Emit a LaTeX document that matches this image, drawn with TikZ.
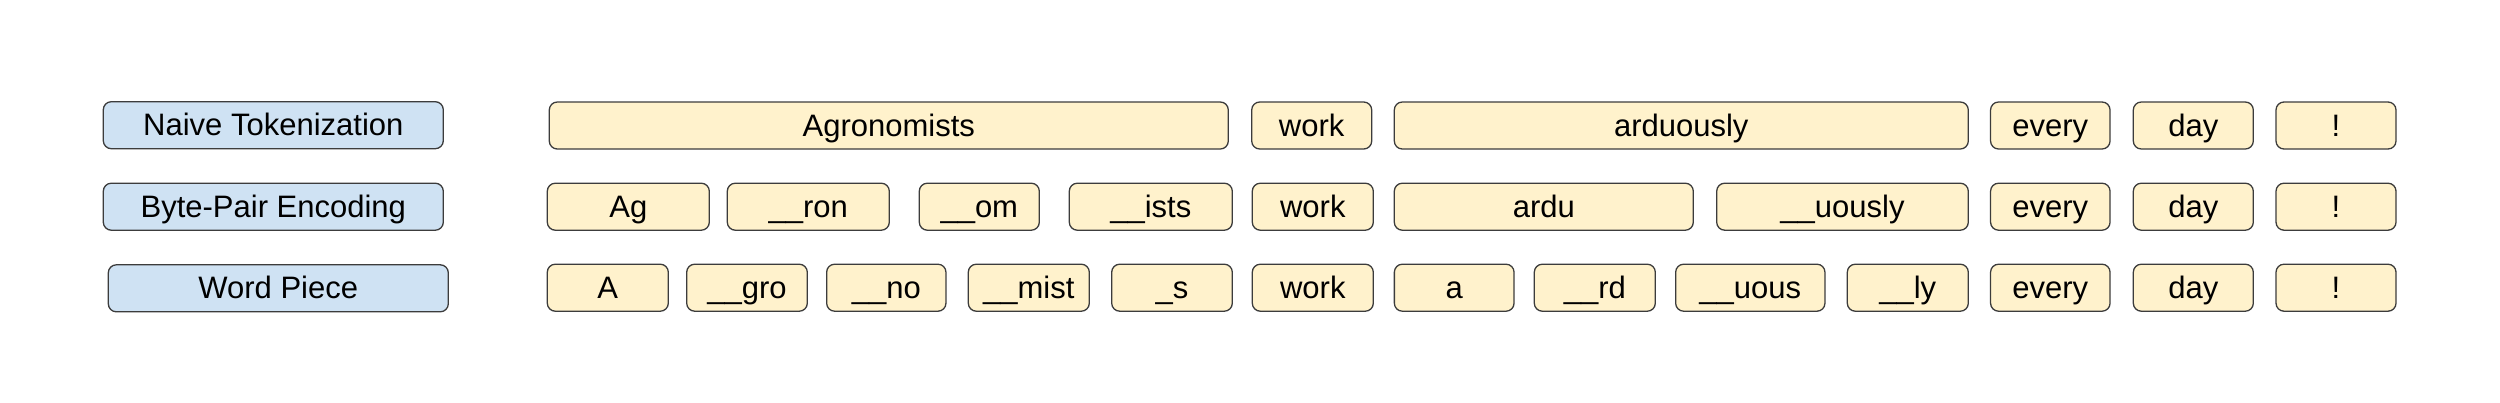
\documentclass[tikz,border=0pt]{standalone}
\usepackage{fontspec}
\setmainfont{Liberation Sans}
\definecolor{tokfill}{HTML}{FFF2CC}
\definecolor{labfill}{HTML}{CFE2F3}
\definecolor{edge}{HTML}{3C3C3C}
\begin{document}
\begin{tikzpicture}[x=1pt,y=-1pt,
  box/.style={draw=edge, line width=1.3pt, rounded corners=8pt, inner sep=0pt,
    minimum height=47pt, text height=23pt, text depth=2pt,
    font=\fontsize{31}{37}\selectfont, anchor=center},
  tok/.style={box, fill=tokfill},
  lab/.style={box, fill=labfill, minimum width=340pt}]
\useasboundingbox (0,0) rectangle (2500,402);
% method labels
\node[lab] (l1) at (273.3,125.2) {Naive Tokenization};
\node[lab] (l2) at (273.3,206.7) {Byte-Pair Encoding};
\node[lab] (l3) at (278.3,288.3) {Word Piece};
% row 1
\node[tok, minimum width=679pt] (a1) at (888.8,125.5) {Agronomists};
\node[tok, minimum width=120pt] (a2) at (1311.7,125.5) {work};
\node[tok, minimum width=574pt] (a3) at (1681.3,125.5) {arduously};
\node[tok, minimum width=119.5pt] (a4) at (2050.3,125.5) {every};
\node[tok, minimum width=120pt] (a5) at (2193.3,125.5) {day};
\node[tok, minimum width=120pt] (a6) at (2336,125.5) {!};
% row 2
\node[tok, minimum width=162pt] (b1) at (628.3,206.7) {Ag};
\node[tok, minimum width=162pt] (b2) at (808.3,206.7) {\_\_ron};
\node[tok, minimum width=120pt] (b3) at (979.3,206.7) {\_\_om};
\node[tok, minimum width=163pt] (b4) at (1150.8,206.7) {\_\_ists};
\node[tok, minimum width=121pt] (b5) at (1312.8,206.7) {work};
\node[tok, minimum width=299pt] (b6) at (1543.8,206.7) {ardu};
\node[tok, minimum width=251.6pt] (b7) at (1842.5,206.7) {\_\_uously};
\node[tok, minimum width=119.5pt] (b8) at (2050.3,206.7) {every};
\node[tok, minimum width=120pt] (b9) at (2193.3,206.7) {day};
\node[tok, minimum width=120pt] (b10) at (2336,206.7) {!};
% row 3
\node[tok, minimum width=121pt] (c1) at (607.8,287.7) {A};
\node[tok, minimum width=120.6pt] (c2) at (747,287.7) {\_\_gro};
\node[tok, minimum width=119.3pt] (c3) at (886.3,287.7) {\_\_no};
\node[tok, minimum width=121pt] (c4) at (1028.8,287.7) {\_\_mist};
\node[tok, minimum width=120.6pt] (c5) at (1172,287.7) {\_s};
\node[tok, minimum width=121pt] (c6) at (1312.8,287.7) {work};
\node[tok, minimum width=119.7pt] (c7) at (1454.2,287.7) {a};
\node[tok, minimum width=121pt] (c8) at (1594.8,287.7) {\_\_rd};
\node[tok, minimum width=149.3pt] (c9) at (1750.3,287.7) {\_\_uous};
\node[tok, minimum width=121pt] (c10) at (1907.8,287.7) {\_\_ly};
\node[tok, minimum width=119.5pt] (c11) at (2050.3,287.7) {every};
\node[tok, minimum width=120pt] (c12) at (2193.3,287.7) {day};
\node[tok, minimum width=120pt] (c13) at (2336,287.7) {!};
\end{tikzpicture}
\end{document}
